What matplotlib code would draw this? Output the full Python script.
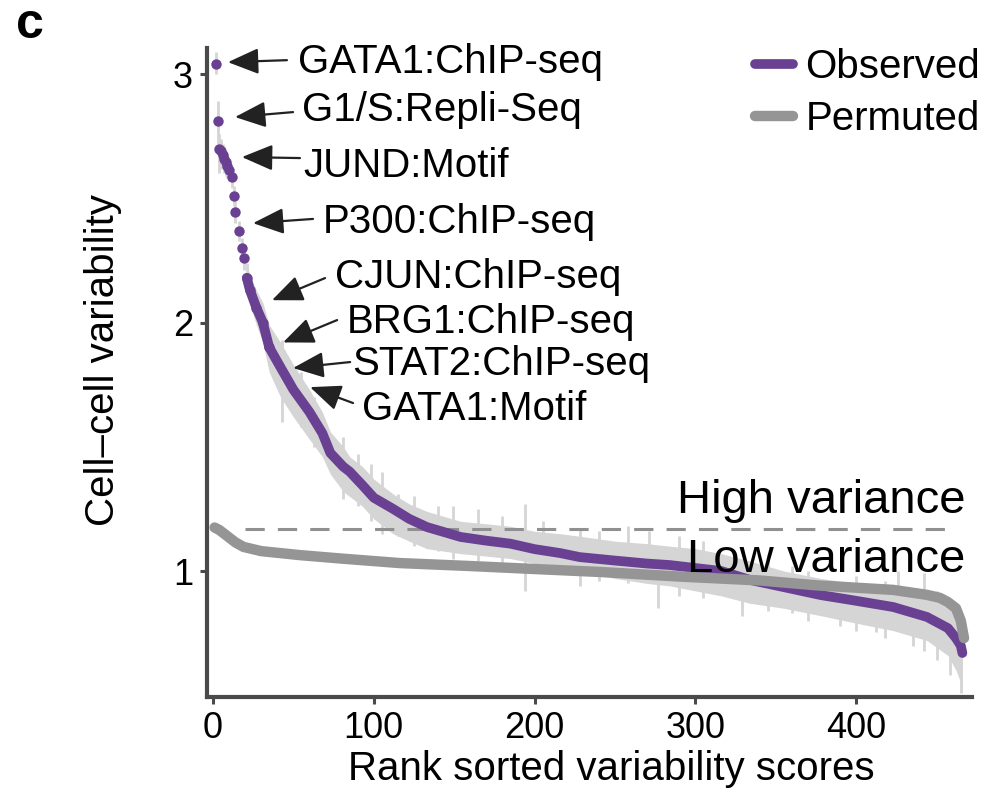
import matplotlib
matplotlib.use('Agg')
import matplotlib.pyplot as plt
import numpy as np

plt.rcParams['font.family'] = ['Liberation Sans', 'DejaVu Sans']

# observed variability, rank sorted
obs_rank = [2, 3, 4, 5, 6, 7, 8, 9, 10, 12, 13, 14, 16, 18, 19, 21, 23, 27, 31, 35,
            42, 50, 60, 68, 73, 81, 85, 93, 100, 112, 122, 133, 154, 170, 185, 200,
            216, 228, 250, 270, 284, 300, 316, 334, 355, 378, 400, 423, 444, 457,
            462, 465, 466]
obs_val = [3.04, 2.81, 2.70, 2.69, 2.675, 2.66, 2.645, 2.63, 2.615, 2.585, 2.51, 2.445,
           2.37, 2.30, 2.26, 2.18, 2.13, 2.06, 2.00, 1.90, 1.82, 1.73, 1.64, 1.555,
           1.475, 1.42, 1.40, 1.345, 1.295, 1.25, 1.21, 1.177, 1.137, 1.122, 1.11,
           1.088, 1.072, 1.056, 1.042, 1.03, 1.024, 1.012, 1.0, 0.964, 0.935, 0.903,
           0.88, 0.855, 0.815, 0.77, 0.73, 0.70, 0.67]
obs_lo = [3.00, 2.72, 2.60, 2.62, 2.62, 2.60, 2.59, 2.58, 2.57, 2.54, 2.47, 2.40,
          2.33, 2.26, 2.21, 2.12, 2.07, 1.99, 1.92, 1.80, 1.70, 1.62, 1.53, 1.46,
          1.39, 1.32, 1.30, 1.26, 1.21, 1.15, 1.12, 1.09, 1.07, 1.06, 1.05, 1.03,
          1.02, 1.00, 0.97, 0.95, 0.94, 0.92, 0.90, 0.87, 0.85, 0.82, 0.79, 0.76,
          0.72, 0.66, 0.60, 0.55, 0.51]
obs_hi = [3.09, 2.89, 2.76, 2.74, 2.72, 2.71, 2.69, 2.68, 2.66, 2.62, 2.55, 2.49,
          2.41, 2.34, 2.31, 2.24, 2.19, 2.13, 2.08, 1.99, 1.92, 1.83, 1.73, 1.64,
          1.56, 1.50, 1.46, 1.42, 1.37, 1.31, 1.27, 1.24, 1.20, 1.19, 1.18, 1.16,
          1.15, 1.14, 1.12, 1.11, 1.10, 1.09, 1.07, 1.04, 1.00, 0.97, 0.95, 0.93,
          0.89, 0.86, 0.82, 0.80, 0.75]

# single long error bars that stick out of the band
spike_rank = [43, 55, 63, 81, 90, 98, 105, 115, 125, 140, 149, 165, 180, 194, 205,
              228, 240, 258, 271, 277, 290, 305, 329, 345, 360, 370, 390, 400, 412,
              418, 426, 435, 442, 450, 458, 465]
spike_lo = [1.60, 1.58, 1.50, 1.29, 1.26, 1.20, 1.15, 1.14, 1.10, 1.08, 1.05, 1.04,
            1.03, 0.92, 1.00, 0.94, 0.96, 0.95, 0.96, 0.85, 0.90, 0.89, 0.82, 0.84,
            0.83, 0.80, 0.78, 0.76, 0.755, 0.73, 0.78, 0.70, 0.68, 0.64, 0.58, 0.51]
spike_hi = [1.93, 1.80, 1.70, 1.54, 1.47, 1.43, 1.40, 1.31, 1.30, 1.26, 1.26, 1.25,
            1.22, 1.27, 1.20, 1.165, 1.16, 1.18, 1.16, 1.08, 1.14, 1.12, 1.05, 1.07,
            1.02, 1.00, 0.95, 0.98, 0.93, 0.96, 1.00, 0.93, 0.99, 0.92, 0.88, 0.80]

# permuted
perm_rank = [1, 4, 9, 14, 19, 30, 54, 80, 116, 160, 200, 241, 292, 340, 376, 423,
             444, 452, 457, 462, 465, 467]
perm_val = [1.175, 1.165, 1.14, 1.115, 1.097, 1.08, 1.064, 1.05, 1.032, 1.02, 1.008,
            0.996, 0.977, 0.962, 0.942, 0.924, 0.904, 0.892, 0.875, 0.85, 0.80, 0.73]

threshold = 1.17

labels = ['GATA1:ChIP-seq', 'G1/S:Repli-Seq', 'JUND:Motif', 'P300:ChIP-seq',
          'CJUN:ChIP-seq', 'BRG1:ChIP-seq', 'STAT2:ChIP-seq', 'GATA1:Motif']

# layout of the annotations (text anchor, arrow tail, arrow tip), in data units
label_xy = [(53, 3.004), (55.4, 2.811), (56, 2.586), (68.5, 2.36),
            (76, 2.139), (83.4, 1.958), (86.5, 1.789), (92.7, 1.608)]
arrow_tail = [(46, 3.056), (49.8, 2.847), (54.1, 2.662), (62.2, 2.417),
              (69.7, 2.179), (77.2, 2.01), (85.3, 1.841), (87.1, 1.676)]
arrow_tip = [(9.3, 3.048), (13.7, 2.827), (18, 2.666), (24.9, 2.40),
             (36.7, 2.09), (43.6, 1.92), (49.8, 1.817), (60.4, 1.74)]

purple = '#6a4192'
perm_grey = '#959595'
err_grey = '#d5d5d5'
axis_grey = '#4a4a4a'

fig = plt.figure(figsize=(10.02, 7.96), dpi=100)
ax = fig.add_axes([0.2066, 0.1244, 0.7635, 0.8153])

# error bars: separate bars for the first dots, a band afterwards
k = 16
ax.vlines(obs_rank[:k], obs_lo[:k], obs_hi[:k], color=err_grey, lw=2, zorder=1)
ax.fill_between(obs_rank[k - 1:], obs_lo[k - 1:], obs_hi[k - 1:], color=err_grey, lw=0, zorder=1)
ax.vlines(spike_rank, spike_lo, spike_hi, color=err_grey, lw=2, zorder=1)

ax.hlines(threshold, 20, 460, colors='#909090', lw=2.2, linestyles=(0, (6.3, 4.3)), zorder=2)

obs_line, = ax.plot(obs_rank[k - 1:], obs_val[k - 1:], color=purple, lw=7,
                    solid_capstyle='round', zorder=3, label='Observed')
ax.plot(obs_rank[:k + 4], obs_val[:k + 4], 'o', ms=7.5, color=purple, mec='none', zorder=3)
perm_line, = ax.plot(perm_rank, perm_val, color=perm_grey, lw=7.5,
                     solid_capstyle='round', zorder=4, label='Permuted')

for lab, txy, tail, tip in zip(labels, label_xy, arrow_tail, arrow_tip):
    ax.annotate('', xy=tip, xytext=tail,
                arrowprops=dict(arrowstyle='-|>,head_length=0.95,head_width=0.4',
                                mutation_scale=20, color='#222222', lw=1.6,
                                shrinkA=0, shrinkB=0), zorder=5)
    ax.text(txy[0], txy[1], lab, fontsize=29, ha='left', va='baseline', zorder=6)

ax.text(468, 1.233, 'High variance', fontsize=34, ha='right', va='baseline', zorder=6)
ax.text(468, 0.997, 'Low variance', fontsize=34, ha='right', va='baseline', zorder=6)

ax.set_xlim(-3.7, 472)
ax.set_ylim(0.493, 3.105)
ax.set_xticks([0, 100, 200, 300, 400])
ax.set_yticks([1, 2, 3])
ax.tick_params(axis='both', labelsize=26, color=axis_grey, width=2.2, length=5, pad=5)
for s in ['top', 'right']:
    ax.spines[s].set_visible(False)
for s in ['left', 'bottom']:
    ax.spines[s].set_color(axis_grey)
    ax.spines[s].set_linewidth(3)

ax.set_xlabel('Rank sorted variability scores', fontsize=29, va='top')
ax.xaxis.set_label_coords(0.528, -0.082)
ax.set_ylabel('Cell\u2013cell variability', fontsize=29, va='center')
ax.yaxis.set_label_coords(-0.136, 0.519)

ax.legend(handles=[obs_line, perm_line], loc='upper left',
          bbox_to_anchor=(0.7535, 0.9397), bbox_transform=fig.transFigure,
          frameon=False, fontsize=29, borderpad=0, borderaxespad=0,
          handlelength=0.95, handletextpad=0.3, labelspacing=0.35)

fig.text(16 / 1002, 1 - 38 / 796, 'c', fontsize=36, fontweight='bold', va='baseline')

fig.savefig('out.png', dpi=100)
